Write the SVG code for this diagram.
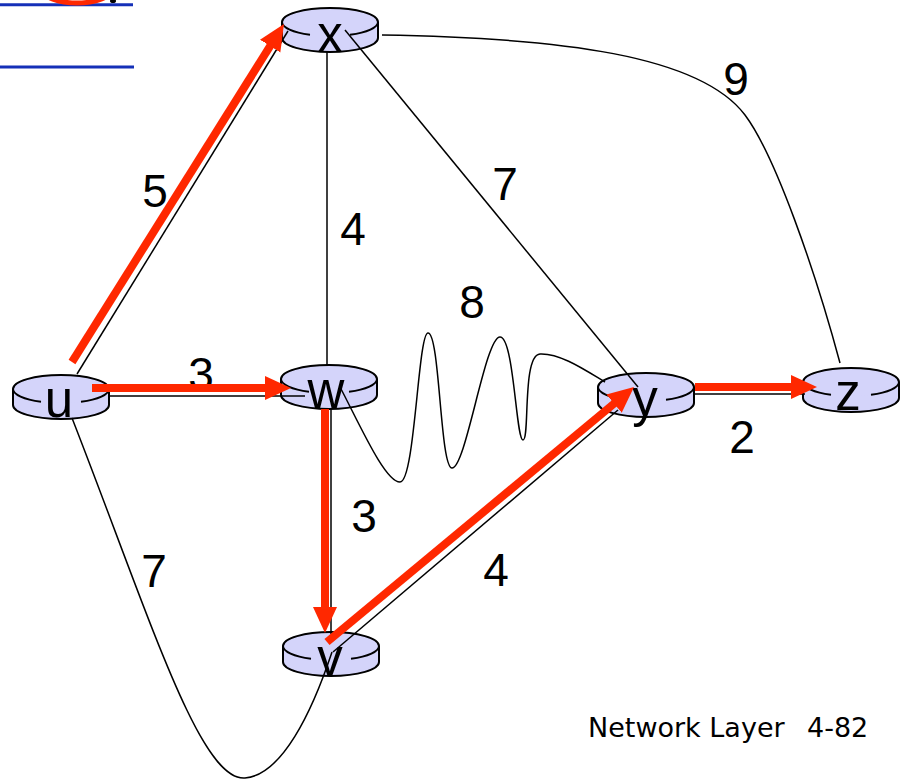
<svg xmlns="http://www.w3.org/2000/svg" xmlns:xlink="http://www.w3.org/1999/xlink" width="906" height="779" viewBox="0 0 906 779">
<style>
.rs{fill:#d4d4fa;stroke:#000;stroke-width:2}
.rf{fill:#d4d4fa;stroke:none}
.ro{fill:none;stroke:#000;stroke-width:2}
.nl{font-family:"Liberation Sans",Arial,sans-serif;font-size:51px;fill:#000;text-anchor:middle}
.el{font-family:"Liberation Sans",Arial,sans-serif;font-size:46px;fill:#000;text-anchor:middle}
.ed{fill:none;stroke:#000;stroke-width:1.5}
.rp{fill:none;stroke:#ff2800;stroke-width:8}
.ft{font-family:"DejaVu Sans",Verdana,sans-serif;font-size:27px;fill:#000}
</style>
<defs>
<g id="rt">
<path class="rs" d="M-48,0 V16 A48,14 0 0 0 48,16 V0"/>
<ellipse rx="48" ry="14" class="rf"/>
<path class="ro" d="M-48,0 A48,14 0 0 1 48,0 M-48,0 A48,14 0 0 0 -20,12.73 M20,12.73 A48,14 0 0 0 48,0"/>
</g>
<marker id="ah" markerUnits="userSpaceOnUse" markerWidth="26" markerHeight="26" viewBox="0 0 26 26" refX="1" refY="13" orient="auto">
<path d="M0,1 L26,13 L0,25 z" fill="#ff2800"/>
</marker>
</defs>
<rect width="906" height="779" fill="#fff"/>
<g id="header">
<line x1="0" y1="4.7" x2="133" y2="4.7" stroke="#1530b8" stroke-width="3"/>
<line x1="0" y1="67" x2="134" y2="67" stroke="#1530b8" stroke-width="3"/>
<ellipse cx="77" cy="-10" rx="34" ry="13" fill="none" stroke="#ff2800" stroke-width="5"/>
<ellipse cx="113" cy="1" rx="3" ry="2" fill="#000"/>
</g>
<g id="nodes">
<g id="node-x"><use xlink:href="#rt" x="330" y="22"/><text class="nl" x="330" y="52">x</text></g>
<g id="node-u"><use xlink:href="#rt" x="61" y="389"/><text class="nl" x="59" y="417">u</text></g>
<g id="node-w"><use xlink:href="#rt" x="329" y="379"/><text class="nl" x="326" y="408">w</text></g>
<g id="node-y"><use xlink:href="#rt" x="646" y="387"/><text class="nl" x="645" y="416">y</text></g>
<g id="node-z"><use xlink:href="#rt" x="851" y="382"/><text class="nl" x="848" y="410">z</text></g>
<g id="node-v"><use xlink:href="#rt" x="331" y="646"/><text class="nl" x="330" y="675">v</text></g>
</g>
<g id="connectors">
<line class="ed" x1="77" y1="374" x2="288" y2="31"/>
<line class="ed" x1="327" y1="52" x2="327" y2="366"/>
<line class="ed" x1="345" y1="30" x2="638" y2="387"/>
<path class="ed" d="M382,35 C560,38 700,55 745,115 C775,155 815,270 840,363"/>
<line class="ed" x1="110" y1="396" x2="305" y2="396"/>
<path class="ed" d="M340,387 C360,425 385,482 400,482 C415,482 418,333 428,333 C440,333 440,468 452,468 C466,468 485,337 500,337 C514,337 516,440 523,440 C530,440 522,355 540,354 C560,353 585,370 605,382"/>
<line class="ed" x1="331" y1="409" x2="331" y2="634"/>
<line class="ed" x1="333" y1="652" x2="618" y2="410"/>
<line class="ed" x1="695" y1="394" x2="805" y2="394"/>
<path class="ed" d="M72,418 C150,618 200,782 245,778 C282,775 312,712 332,652"/>
</g>
<g id="labels">
<text class="el" x="155" y="207">5</text>
<text class="el" x="353" y="245">4</text>
<text class="el" x="505" y="200">7</text>
<text class="el" x="736" y="95">9</text>
<text class="el" x="472" y="318">8</text>
<text class="el" x="201" y="390">3</text>
<text class="el" x="742" y="453">2</text>
<text class="el" x="364" y="532">3</text>
<text class="el" x="154" y="587">7</text>
<text class="el" x="496" y="586">4</text>
</g>
<g id="shortest-path">
<line class="rp" x1="72" y1="362" x2="270.7" y2="45.2" marker-end="url(#ah)"/>
<line class="rp" x1="92" y1="388" x2="266" y2="388" marker-end="url(#ah)"/>
<line class="rp" x1="325" y1="409" x2="325" y2="608" marker-end="url(#ah)"/>
<line class="rp" x1="327" y1="642" x2="614.8" y2="403" marker-end="url(#ah)"/>
<line class="rp" x1="695" y1="387" x2="792" y2="387" marker-end="url(#ah)"/>
</g>
<g id="footer">
<text class="ft" x="588" y="737">Network Layer</text>
<text class="ft" x="807" y="737">4-82</text>
</g>
</svg>
